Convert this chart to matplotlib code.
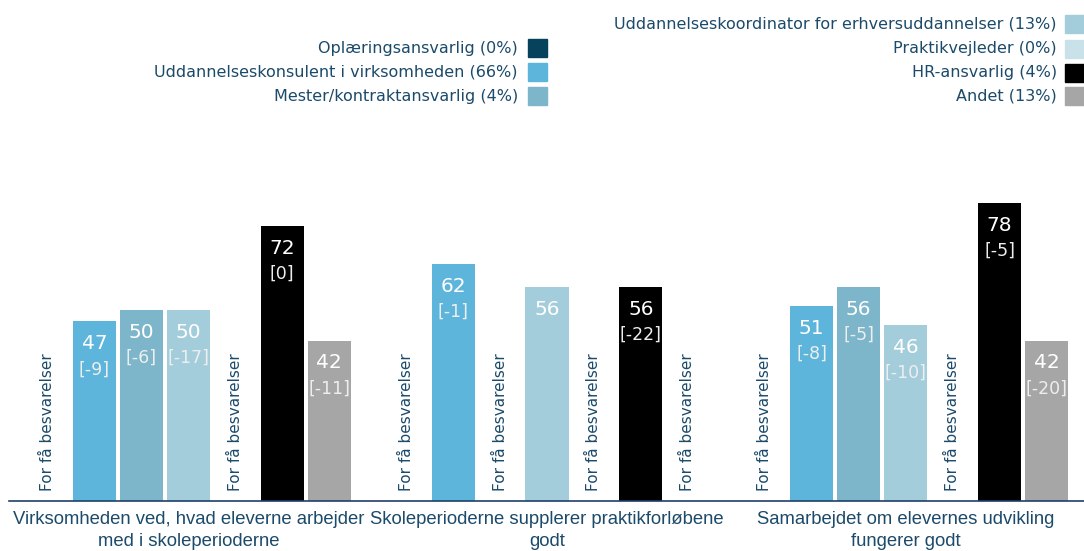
import matplotlib.pyplot as plt
from matplotlib.patches import Rectangle

categories = [
    "Virksomheden ved, hvad eleverne arbejder\nmed i skoleperioderne",
    "Skoleperioderne supplerer praktikforløbene\ngodt",
    "Samarbejdet om elevernes udvikling\nfungerer godt",
]
series = [
    "Oplæringsansvarlig (0%)",
    "Uddannelseskonsulent i virksomheden (66%)",
    "Mester/kontraktansvarlig (4%)",
    "Uddannelseskoordinator for erhversuddannelser (13%)",
    "Praktikvejleder (0%)",
    "HR-ansvarlig (4%)",
    "Andet (13%)",
]
colors = ["#07425c", "#5db5db", "#7db6ca", "#a4cddb", "#c9e2ea", "#000000", "#a6a6a6"]

# None = "For få besvarelser"
values = [
    [None, None, None],
    [47, 62, 51],
    [50, None, 56],
    [50, 56, 46],
    [None, None, None],
    [72, 56, 78],
    [42, None, 42],
]
changes = [
    [None, None, None],
    [-9, -1, -8],
    [-6, None, -5],
    [-17, None, -10],
    [None, None, None],
    [0, -22, -5],
    [-11, None, -20],
]

text_col = "#1b4a6a"
fig = plt.figure(figsize=(10.84, 5.51), dpi=100)
ax = fig.add_axes([9 / 1084, 50 / 551, 1076 / 1084, 382 / 551])

slot = 0.131
width = 0.12
for s in range(len(series)):
    for g in range(len(categories)):
        x = g + (s - 3) * slot
        v = values[s][g]
        if v is None:
            ax.annotate("For få besvarelser", (x, 0), xytext=(0, 7), textcoords="offset points",
                        rotation=90, ha="center", va="bottom", fontsize=11, color=text_col)
            continue
        ax.bar(x, v, width, color=colors[s])
        ax.annotate(str(v), (x, v), xytext=(0, -16), textcoords="offset points",
                    ha="center", va="center", fontsize=14.5, color="white")
        c = changes[s][g]
        if c is not None:
            ax.annotate("[%d]" % c, (x, v), xytext=(0, -34.5), textcoords="offset points",
                        ha="center", va="center", fontsize=12.5, color="#eeeeee")

ax.set_xlim(-0.5, 2.5)
ax.set_ylim(0, 100)
ax.set_xticks(range(len(categories)))
ax.set_xticklabels(categories, fontsize=13.3, color=text_col, linespacing=1.4,
                   family=["Liberation Sans", "DejaVu Sans"])
ax.tick_params(axis="x", length=0, pad=7)
ax.set_yticks([])
for sp in ["top", "right", "left"]:
    ax.spines[sp].set_visible(False)
ax.spines["bottom"].set_color("#1f3f6a")
ax.spines["bottom"].set_linewidth(1.2)

# legend, two right-aligned columns
H, W = 551, 1084
left_rows = [48, 72, 96]
right_rows = [24, 49, 73, 96]
for i, y in enumerate(left_rows):
    fig.text(518 / W, 1 - y / H, series[i], ha="right", va="center", fontsize=11.5, color=text_col)
    fig.add_artist(Rectangle((528 / W, 1 - (y + 9) / H), 19 / W, 18 / H,
                             transform=fig.transFigure, color=colors[i]))
for j, y in enumerate(right_rows):
    i = j + 3
    fig.text(1057 / W, 1 - y / H, series[i], ha="right", va="center", fontsize=11.5, color=text_col)
    fig.add_artist(Rectangle((1065 / W, 1 - (y + 9) / H), 19 / W, 18 / H,
                             transform=fig.transFigure, color=colors[i]))

fig.savefig("out.png", dpi=100)
